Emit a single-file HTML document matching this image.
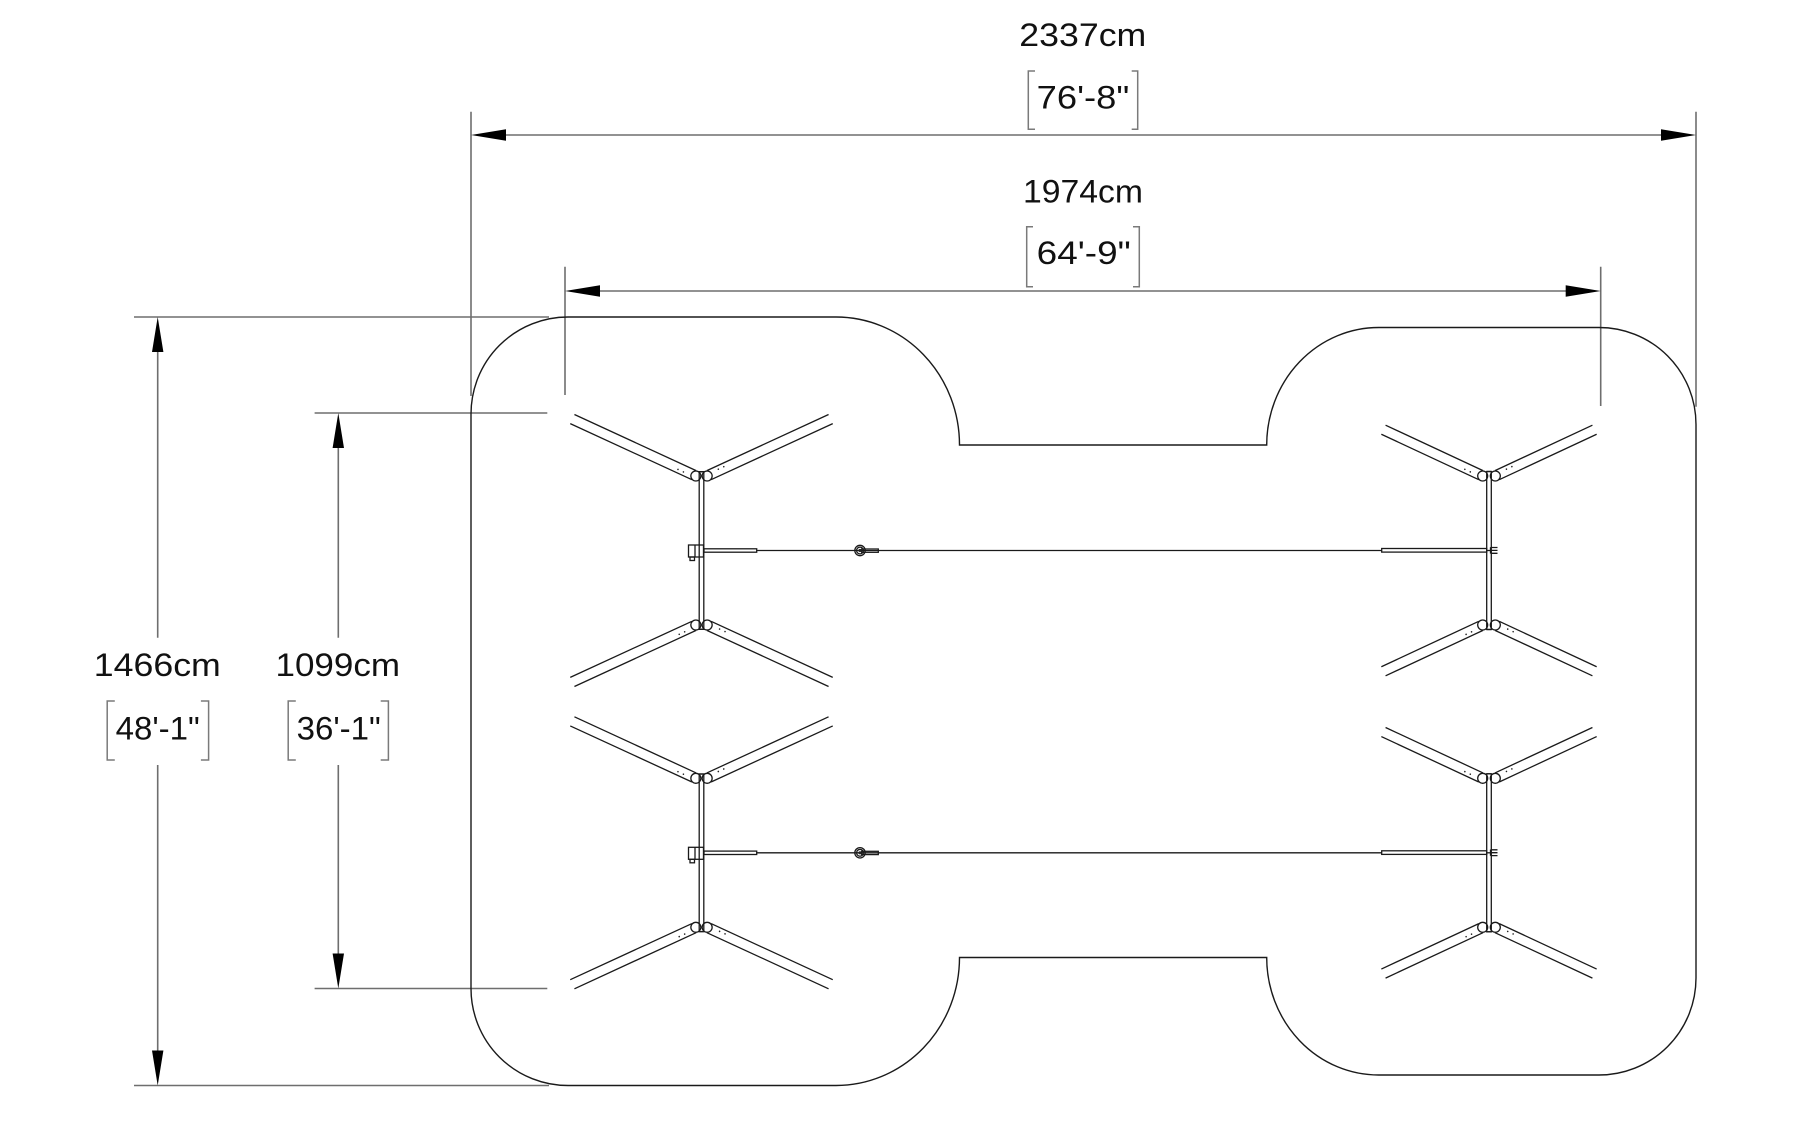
<!DOCTYPE html>
<html>
<head>
<meta charset="utf-8">
<style>
  html,body{margin:0;padding:0;background:#fff;overflow:hidden;}
  svg{display:block;}
  .dim{stroke:#6e6e6e;stroke-width:1.6;fill:none;}
  .br{stroke:#7a7a7a;stroke-width:1.5;fill:none;}
  .ol{stroke:#1a1a1a;stroke-width:1.4;fill:none;}
  .ln{stroke:#1a1a1a;stroke-width:1.3;fill:none;}
  .ah{fill:#000;stroke:none;}
  .t{font-family:"Liberation Sans",sans-serif;font-size:32px;fill:#111;}
</style>
</head>
<body>
<svg width="1800" height="1124" viewBox="0 0 1800 1124" xmlns="http://www.w3.org/2000/svg">
  <defs>
    <g id="legL">
      <line class="ln" x1="2" y1="-5" x2="136" y2="-5"/>
      <line class="ln" x1="2" y1="5" x2="136" y2="5"/>
      <circle cx="13" cy="-1.5" r="0.8" fill="#222"/>
      <circle cx="19" cy="-1.5" r="0.8" fill="#222"/>
    </g>
    <g id="legR">
      <line class="ln" x1="2" y1="-5" x2="109.5" y2="-5"/>
      <line class="ln" x1="2" y1="5" x2="109.5" y2="5"/>
      <circle cx="13" cy="-1.5" r="0.8" fill="#222"/>
      <circle cx="19" cy="-1.5" r="0.8" fill="#222"/>
    </g>
  </defs>

  <!-- ===== Top dimension 2337cm ===== -->
  <line class="dim" x1="471" y1="111.7" x2="471" y2="396"/>
  <line class="dim" x1="1696" y1="111.7" x2="1696" y2="406.7"/>
  <line class="dim" x1="490" y1="135" x2="1680" y2="135"/>
  <polygon class="ah" points="471,135 506,129.3 506,140.7"/>
  <polygon class="ah" points="1696,135 1661,129.3 1661,140.7"/>
  <text class="t" x="1019.3" y="46" textLength="127" lengthAdjust="spacingAndGlyphs">2337cm</text>
  <path class="br" d="M1035,71 H1028.3 V129.3 H1035 M1131.7,71 H1137.7 V129.3 H1131.7"/>
  <text class="t" x="1036.7" y="108.3" textLength="92.6" lengthAdjust="spacingAndGlyphs">76'-8&quot;</text>

  <!-- ===== Second dimension 1974cm ===== -->
  <line class="dim" x1="565" y1="266.7" x2="565" y2="395"/>
  <line class="dim" x1="1600.7" y1="266.7" x2="1600.7" y2="406"/>
  <line class="dim" x1="580" y1="291" x2="1585" y2="291"/>
  <polygon class="ah" points="565,291 600,285.3 600,296.7"/>
  <polygon class="ah" points="1600.7,291 1565.7,285.3 1565.7,296.7"/>
  <text class="t" x="1023" y="202.7" textLength="120" lengthAdjust="spacingAndGlyphs">1974cm</text>
  <path class="br" d="M1033,226.7 H1026.7 V286.7 H1033 M1133,226.7 H1139.3 V286.7 H1133"/>
  <text class="t" x="1036.7" y="264" textLength="94" lengthAdjust="spacingAndGlyphs">64'-9&quot;</text>

  <!-- ===== Left dimension 1466cm ===== -->
  <line class="dim" x1="134" y1="317" x2="549" y2="317"/>
  <line class="dim" x1="134" y1="1085.5" x2="549" y2="1085.5"/>
  <line class="dim" x1="157.7" y1="330" x2="157.7" y2="637.7"/>
  <line class="dim" x1="157.7" y1="765" x2="157.7" y2="1070"/>
  <polygon class="ah" points="157.7,317 152,352 163.4,352"/>
  <polygon class="ah" points="157.7,1085.5 152,1050.5 163.4,1050.5"/>
  <text class="t" x="93.8" y="676" textLength="127" lengthAdjust="spacingAndGlyphs">1466cm</text>
  <path class="br" d="M114.8,701 H107.2 V760 H114.8 M200.9,701 H208.6 V760 H200.9"/>
  <text class="t" x="115.6" y="739.3" textLength="84.2" lengthAdjust="spacingAndGlyphs">48'-1&quot;</text>

  <!-- ===== Left dimension 1099cm ===== -->
  <line class="dim" x1="314.6" y1="413" x2="547.3" y2="413"/>
  <line class="dim" x1="314.6" y1="988.5" x2="547.3" y2="988.5"/>
  <line class="dim" x1="338.3" y1="425" x2="338.3" y2="637.7"/>
  <line class="dim" x1="338.3" y1="765" x2="338.3" y2="975"/>
  <polygon class="ah" points="338.3,413 332.6,448 344,448"/>
  <polygon class="ah" points="338.3,988.5 332.6,953.5 344,953.5"/>
  <text class="t" x="275.5" y="676" textLength="124.5" lengthAdjust="spacingAndGlyphs">1099cm</text>
  <path class="br" d="M295.8,701 H288.2 V760 H295.8 M380.7,701 H388.4 V760 H380.7"/>
  <text class="t" x="296.6" y="739.3" textLength="84.2" lengthAdjust="spacingAndGlyphs">36'-1&quot;</text>

  <!-- ===== Outline ===== -->
  <path class="ol" d="M471,414 A97,97 0 0 1 568,317 L836,317 A123.5,128 0 0 1 959.5,445 L1266.7,445 A112,117.5 0 0 1 1378.7,327.5 L1599,327.5 A97,97 0 0 1 1696,424.5 L1696,978 A97,97 0 0 1 1599,1075 L1378.7,1075 A112,117.5 0 0 1 1266.7,957.5 L959.5,957.5 A123.5,128 0 0 1 836,1085.5 L568,1085.5 A97,97 0 0 1 471,988.5 Z"/>

  <!-- ===== Swing set A (upper) ===== -->
  <g>
    <!-- beam -->
    <line class="ln" x1="756.7" y1="550.5" x2="1381.7" y2="550.5"/>
    <rect class="ln" x="704" y="548.8" width="52.7" height="3.4" fill="#fff"/>
    <rect class="ln" x="1381.7" y="548.5" width="105" height="3.6" fill="#fff"/>
    <!-- swivel -->
    <rect class="ln" x="861.7" y="549" width="16.6" height="3.3" fill="#fff"/>
    <circle class="ln" cx="860" cy="550.5" r="5.2" fill="#fff"/>
    <circle class="ln" cx="860" cy="550.5" r="3.4"/>
    <circle cx="860" cy="550.5" r="1.6" fill="#222"/>
    <!-- left bracket -->
    <rect class="ln" x="688.5" y="545" width="15" height="12" fill="#fff"/>
    <line class="ln" x1="695" y1="545" x2="695" y2="557"/>
    <rect class="ln" x="690" y="557" width="4.5" height="3.5" fill="#fff"/>
    <!-- right E bracket -->
    <path class="ln" d="M1490.5,547.3 V553.5 M1490.5,547.5 H1497.5 M1490.5,550.4 H1497.5 M1490.5,553.3 H1497.5"/>

    <!-- left frame legs -->
    <use href="#legL" transform="translate(695.85,476) rotate(204.75)"/>
    <use href="#legL" transform="translate(707.15,476) rotate(-24.75)"/>
    <use href="#legL" transform="translate(695.85,625) rotate(155.25)"/>
    <use href="#legL" transform="translate(707.15,625) rotate(24.75)"/>
    <rect class="ln" x="699.2" y="471.7" width="4.6" height="157.6" fill="#fff"/>
    <circle class="ln" cx="695.85" cy="476" r="5" fill="#fff"/>
    <circle class="ln" cx="707.15" cy="476" r="5" fill="#fff"/>
    <circle class="ln" cx="695.85" cy="625" r="5" fill="#fff"/>
    <circle class="ln" cx="707.15" cy="625" r="5" fill="#fff"/>
    <line class="ln" x1="699.2" y1="471.7" x2="703.8" y2="471.7"/>
    <line class="ln" x1="699.2" y1="629.3" x2="703.8" y2="629.3"/>

    <!-- right frame legs -->
    <use href="#legR" transform="translate(1482.7,476) rotate(205)"/>
    <use href="#legR" transform="translate(1495.3,476) rotate(-25)"/>
    <use href="#legR" transform="translate(1482.7,625) rotate(155)"/>
    <use href="#legR" transform="translate(1495.3,625) rotate(25)"/>
    <rect class="ln" x="1486.7" y="471.5" width="4.6" height="158" fill="#fff"/>
    <circle class="ln" cx="1482.7" cy="476" r="5" fill="#fff"/>
    <circle class="ln" cx="1495.3" cy="476" r="5" fill="#fff"/>
    <circle class="ln" cx="1482.7" cy="625" r="5" fill="#fff"/>
    <circle class="ln" cx="1495.3" cy="625" r="5" fill="#fff"/>
    <line class="ln" x1="1486.7" y1="471.5" x2="1491.3" y2="471.5"/>
    <line class="ln" x1="1486.7" y1="629.5" x2="1491.3" y2="629.5"/>
    <line class="ln" x1="1486.7" y1="550.5" x2="1491.3" y2="550.5"/>
  </g>

  <!-- ===== Swing set B (lower) ===== -->
  <g transform="translate(0,302.3)">
    <line class="ln" x1="756.7" y1="550.5" x2="1381.7" y2="550.5"/>
    <rect class="ln" x="704" y="548.8" width="52.7" height="3.4" fill="#fff"/>
    <rect class="ln" x="1381.7" y="548.5" width="105" height="3.6" fill="#fff"/>
    <rect class="ln" x="861.7" y="549" width="16.6" height="3.3" fill="#fff"/>
    <circle class="ln" cx="860" cy="550.5" r="5.2" fill="#fff"/>
    <circle class="ln" cx="860" cy="550.5" r="3.4"/>
    <circle cx="860" cy="550.5" r="1.6" fill="#222"/>
    <rect class="ln" x="688.5" y="545" width="15" height="12" fill="#fff"/>
    <line class="ln" x1="695" y1="545" x2="695" y2="557"/>
    <rect class="ln" x="690" y="557" width="4.5" height="3.5" fill="#fff"/>
    <path class="ln" d="M1490.5,547.3 V553.5 M1490.5,547.5 H1497.5 M1490.5,550.4 H1497.5 M1490.5,553.3 H1497.5"/>

    <use href="#legL" transform="translate(695.85,476) rotate(204.75)"/>
    <use href="#legL" transform="translate(707.15,476) rotate(-24.75)"/>
    <use href="#legL" transform="translate(695.85,625) rotate(155.25)"/>
    <use href="#legL" transform="translate(707.15,625) rotate(24.75)"/>
    <rect class="ln" x="699.2" y="471.7" width="4.6" height="157.6" fill="#fff"/>
    <circle class="ln" cx="695.85" cy="476" r="5" fill="#fff"/>
    <circle class="ln" cx="707.15" cy="476" r="5" fill="#fff"/>
    <circle class="ln" cx="695.85" cy="625" r="5" fill="#fff"/>
    <circle class="ln" cx="707.15" cy="625" r="5" fill="#fff"/>
    <line class="ln" x1="699.2" y1="471.7" x2="703.8" y2="471.7"/>
    <line class="ln" x1="699.2" y1="629.3" x2="703.8" y2="629.3"/>

    <use href="#legR" transform="translate(1482.7,476) rotate(205)"/>
    <use href="#legR" transform="translate(1495.3,476) rotate(-25)"/>
    <use href="#legR" transform="translate(1482.7,625) rotate(155)"/>
    <use href="#legR" transform="translate(1495.3,625) rotate(25)"/>
    <rect class="ln" x="1486.7" y="471.5" width="4.6" height="158" fill="#fff"/>
    <circle class="ln" cx="1482.7" cy="476" r="5" fill="#fff"/>
    <circle class="ln" cx="1495.3" cy="476" r="5" fill="#fff"/>
    <circle class="ln" cx="1482.7" cy="625" r="5" fill="#fff"/>
    <circle class="ln" cx="1495.3" cy="625" r="5" fill="#fff"/>
    <line class="ln" x1="1486.7" y1="471.5" x2="1491.3" y2="471.5"/>
    <line class="ln" x1="1486.7" y1="629.5" x2="1491.3" y2="629.5"/>
    <line class="ln" x1="1486.7" y1="550.5" x2="1491.3" y2="550.5"/>
  </g>
</svg>
</body>
</html>
